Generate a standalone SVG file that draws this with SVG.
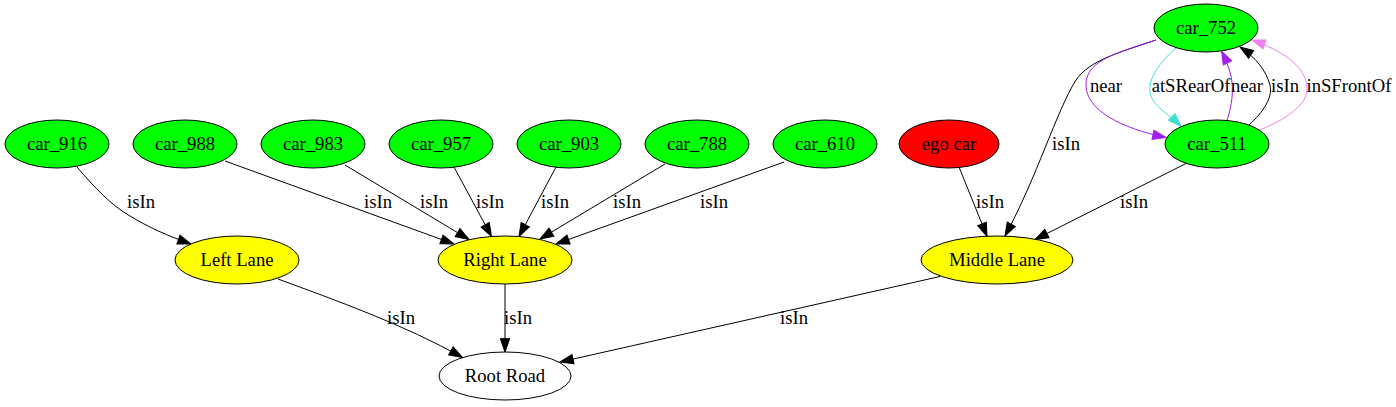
<svg xmlns="http://www.w3.org/2000/svg" width="1396" height="407" viewBox="0 0 1396 407">
<style>
text{font-family:"Liberation Serif","Times New Roman",serif;font-size:18.67px;text-anchor:middle;fill:#000}
.n{stroke:#000;stroke-width:1}
.car{fill:#00ff00}
.ego{fill:#ff0000}
.lane{fill:#ffff00}
.road{fill:#ffffff}
.e{fill:none;stroke:#000;stroke-width:1;marker-end:url(#ab)}
.ep{fill:none;stroke:#a020f0;stroke-width:1;marker-end:url(#ap)}
.et{fill:none;stroke:#40e0d0;stroke-width:1;marker-end:url(#at)}
.ev{fill:none;stroke:#ee82ee;stroke-width:1;marker-end:url(#av)}
</style>
<defs>
<marker id="ab" viewBox="-1 -6 15.5 12" refX="13.33" refY="0" markerWidth="15.5" markerHeight="12" markerUnits="userSpaceOnUse" orient="auto"><path d="M0,-4.67 L13.33,0 L0,4.67 Z" fill="#000" stroke="#000"/></marker>
<marker id="ap" viewBox="-1 -6 15.5 12" refX="13.33" refY="0" markerWidth="15.5" markerHeight="12" markerUnits="userSpaceOnUse" orient="auto"><path d="M0,-4.67 L13.33,0 L0,4.67 Z" fill="#a020f0" stroke="#a020f0"/></marker>
<marker id="at" viewBox="-1 -6 15.5 12" refX="13.33" refY="0" markerWidth="15.5" markerHeight="12" markerUnits="userSpaceOnUse" orient="auto"><path d="M0,-4.67 L13.33,0 L0,4.67 Z" fill="#40e0d0" stroke="#40e0d0"/></marker>
<marker id="av" viewBox="-1 -6 15.5 12" refX="13.33" refY="0" markerWidth="15.5" markerHeight="12" markerUnits="userSpaceOnUse" orient="auto"><path d="M0,-4.67 L13.33,0 L0,4.67 Z" fill="#ee82ee" stroke="#ee82ee"/></marker>
</defs>
<rect width="1396" height="407" fill="#fff"/>
<g id="connectors">
<path class="e" d="M77,167 C95,188 111,205 130,216 C148,227 168,236 191,244"/>
<text x="141" y="208">isIn</text>
<path class="e" d="M225,161 L454,244"/>
<text x="378" y="208">isIn</text>
<path class="e" d="M345,165 L469,239.5"/>
<text x="434" y="208">isIn</text>
<path class="e" d="M454,167 L491.5,236.5"/>
<text x="490" y="208">isIn</text>
<path class="e" d="M556,167 L519,236.5"/>
<text x="555" y="208">isIn</text>
<path class="e" d="M665,164 L540,239"/>
<text x="627" y="208">isIn</text>
<path class="e" d="M784,162 L556,244"/>
<text x="714" y="208">isIn</text>
<path class="e" d="M959,167 L987,236.3"/>
<text x="990" y="208">isIn</text>
<path class="e" d="M1187,163 L1035,239.5"/>
<text x="1134" y="208">isIn</text>
<path class="e" d="M1156,40 C1118,53 1090,60 1076,80 C1056,112 1038,175 1005,236"/>
<text x="1066" y="150">isIn</text>
<path class="ep" d="M1156,40 C1112,54 1085,62 1086,86 C1087,110 1120,128 1166,137.5"/>
<text x="1106" y="91.5">near</text>
<path class="et" d="M1176,48 C1160,62 1148,78 1150,92 C1152,106 1168,113 1181,126.5"/>
<text x="1191" y="91.5">atSRearOf</text>
<path class="ep" d="M1227,120.5 C1232,105 1234,90 1231,76 C1229,68 1226,60 1221.5,51"/>
<text x="1247" y="91.5">near</text>
<path class="e" d="M1249,125 C1263,112 1273,98 1270,85 C1266,70 1255,57 1240,47"/>
<text x="1285" y="91.5">isIn</text>
<path class="ev" d="M1259.5,130 C1285,120 1308,105 1307,88 C1306,65 1280,50 1252,40"/>
<text x="1349" y="91.5">inSFrontOf</text>
<path class="e" d="M278,279 C335,300 405,325 462.5,357.5"/>
<text x="401" y="324">isIn</text>
<path class="e" d="M505,284 L505,352"/>
<text x="518" y="324">isIn</text>
<path class="e" d="M940,276.5 L560,362"/>
<text x="794" y="324">isIn</text>
</g>
<g id="car_752"><ellipse class="n car" cx="1206" cy="28" rx="52" ry="24"/><text x="1206" y="34">car_752</text></g>
<g id="car_511"><ellipse class="n car" cx="1217" cy="144" rx="52" ry="24"/><text x="1217" y="150">car_511</text></g>
<g id="car_916"><ellipse class="n car" cx="57" cy="144" rx="52" ry="24"/><text x="57" y="150">car_916</text></g>
<g id="car_988"><ellipse class="n car" cx="185" cy="144" rx="52" ry="24"/><text x="185" y="150">car_988</text></g>
<g id="car_983"><ellipse class="n car" cx="313" cy="144" rx="52" ry="24"/><text x="313" y="150">car_983</text></g>
<g id="car_957"><ellipse class="n car" cx="441" cy="144" rx="52" ry="24"/><text x="441" y="150">car_957</text></g>
<g id="car_903"><ellipse class="n car" cx="569" cy="144" rx="52" ry="24"/><text x="569" y="150">car_903</text></g>
<g id="car_788"><ellipse class="n car" cx="697" cy="144" rx="52" ry="24"/><text x="697" y="150">car_788</text></g>
<g id="car_610"><ellipse class="n car" cx="825" cy="144" rx="52" ry="24"/><text x="825" y="150">car_610</text></g>
<g id="ego_car"><ellipse class="n ego" cx="949" cy="144" rx="50" ry="24"/><text x="949" y="150">ego car</text></g>
<g id="left_lane"><ellipse class="n lane" cx="237" cy="260" rx="62" ry="24"/><text x="237" y="266">Left Lane</text></g>
<g id="right_lane"><ellipse class="n lane" cx="505" cy="260" rx="67" ry="24"/><text x="505" y="266">Right Lane</text></g>
<g id="middle_lane"><ellipse class="n lane" cx="997" cy="260" rx="76" ry="24"/><text x="997" y="266">Middle Lane</text></g>
<g id="root_road"><ellipse class="n road" cx="505" cy="376" rx="66" ry="24"/><text x="505" y="382">Root Road</text></g>
</svg>
